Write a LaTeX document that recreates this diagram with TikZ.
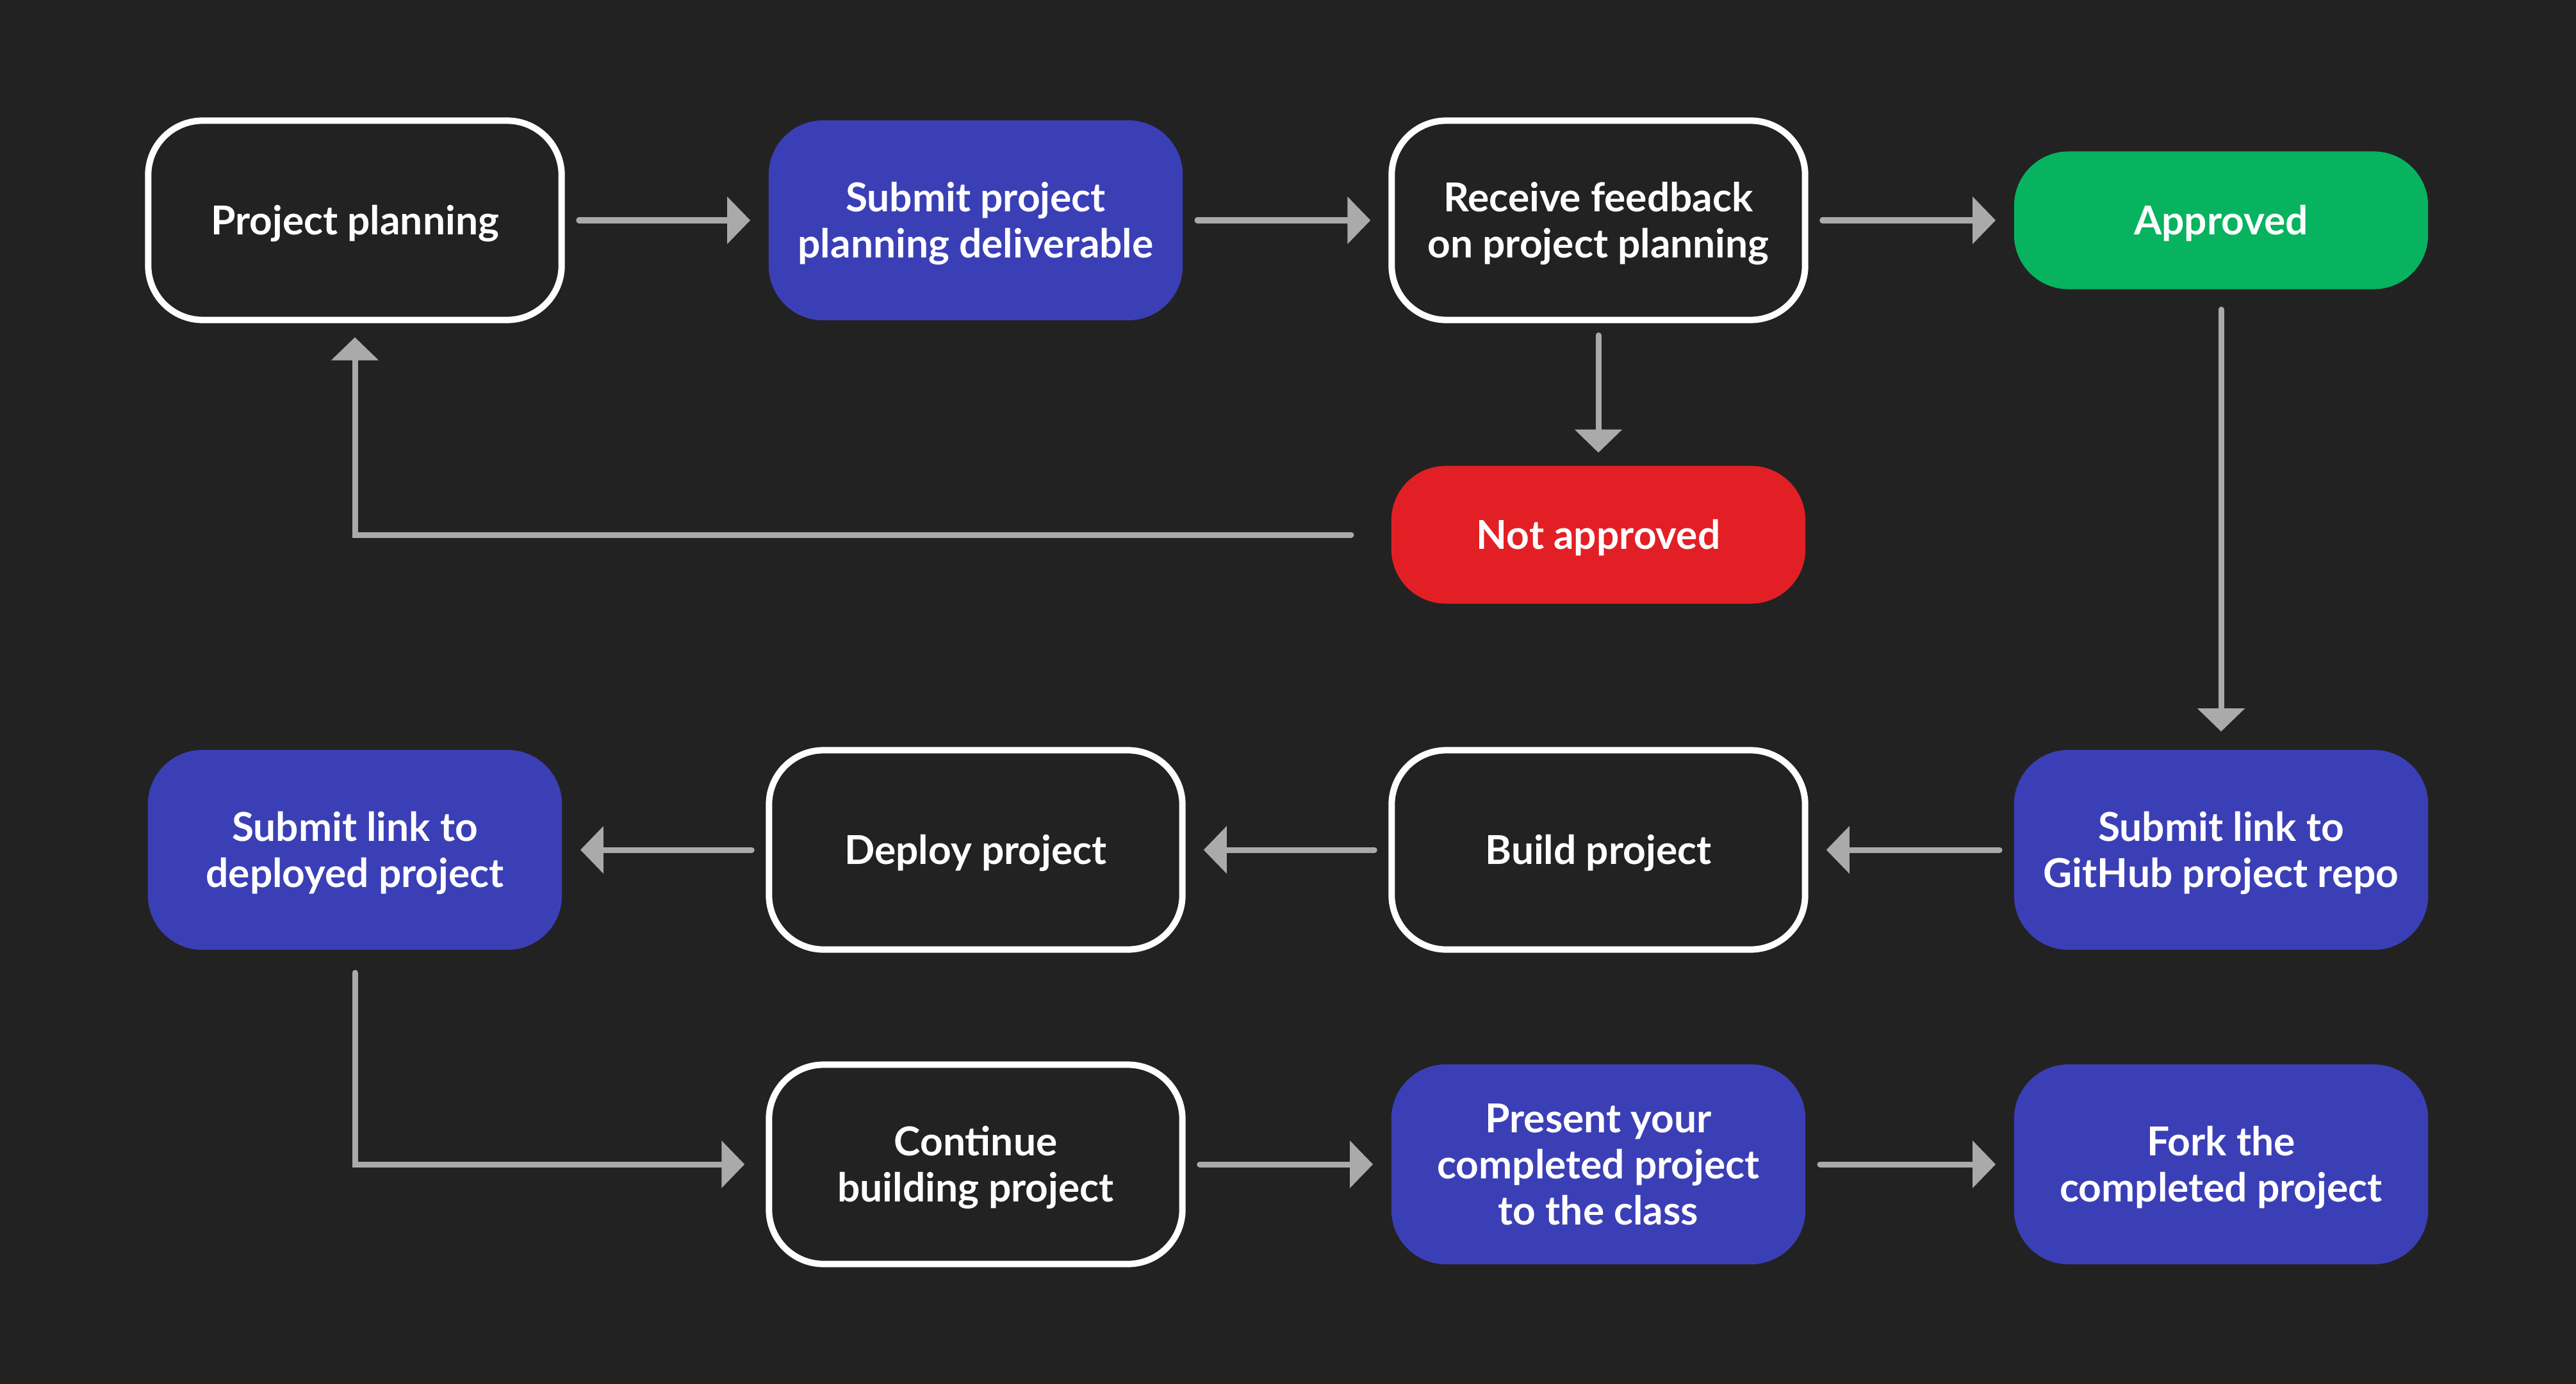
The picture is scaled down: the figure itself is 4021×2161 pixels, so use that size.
\documentclass[tikz,border=0pt]{standalone}
\usepackage{fontspec}
\setmainfont{Lato}
\usetikzlibrary{arrows.meta}
\definecolor{bgc}{HTML}{222222}
\definecolor{bluec}{HTML}{3B3FB6}
\definecolor{greenc}{HTML}{07B35F}
\definecolor{redc}{HTML}{E31F26}
\definecolor{arrc}{HTML}{AAAAAA}
\tikzset{
  base/.style={rounded corners=0.85cm, align=center, text=white, inner sep=0pt,
    font=\fontsize{17.7pt}{20.5pt}\selectfont\bfseries,
    execute at begin node={\rule{0pt}{16.5pt}},
    execute at end node={\rule[-3.6pt]{0pt}{0pt}}},
  mltwo/.style={execute at begin node={\rule{0pt}{37pt}}},
  mlthree/.style={execute at begin node={\rule{0pt}{57.5pt}}},
  outlinebox/.style={base, draw=white, line width=0.1cm, fill=bgc,
    minimum width=6.45cm, minimum height=3.11cm},
  bluebox/.style={base, fill=bluec, minimum width=6.46cm, minimum height=3.12cm},
  greenbox/.style={base, fill=greenc, minimum width=6.46cm, minimum height=2.15cm},
  redbox/.style={base, fill=redc, minimum width=6.46cm, minimum height=2.15cm},
  arr/.style={draw=arrc, line width=0.09cm, line cap=round,
    -{Triangle[length=0.36cm, width=0.72cm]},
    shorten <=0.22cm, shorten >=0.28cm},
}
\begin{document}
\begin{tikzpicture}[x=0.01cm, y=-0.01cm]
\fill[bgc] (0,0) rectangle (4021,2161);
\useasboundingbox (0,0) rectangle (4021,2161);

% row 1
\node[outlinebox] (pp) at (554,344) {Project planning};
\node[bluebox, mltwo] (spd) at (1523,344) {Submit project\\planning deliverable};
\node[outlinebox, mltwo] (rf) at (2495,344) {Receive feedback\\on project planning};
\node[greenbox] (ap) at (3467,344) {Approved};
\node[redbox] (na) at (2495,835) {Not approved};

% row 2
\node[bluebox, mltwo] (sld) at (554,1327) {Submit link to\\deployed project};
\node[outlinebox] (dp) at (1523,1327) {Deploy project};
\node[outlinebox] (bp) at (2495,1327) {Build project};
\node[bluebox, mltwo] (slg) at (3467,1327) {Submit link to\\GitHub project repo};

% row 3
\node[outlinebox, mltwo] (cb) at (1523,1818) {Continue\\building project};
\node[bluebox, mlthree] (pc) at (2495,1818) {Present your\\completed project\\to the class};
\node[bluebox, mltwo] (fc) at (3467,1818) {Fork the\\completed project};

% connectors
\draw[arr] (pp) -- (spd);
\draw[arr] (spd) -- (rf);
\draw[arr] (rf) -- (ap);
\draw[arr, shorten <=0.19cm, shorten >=0.2cm] (rf) -- (na);
\draw[arr, shorten <=0.62cm, shorten >=0.22cm] (na.west) -| (pp.south);
\draw[arr, shorten <=0.31cm] (ap) -- (slg);
\draw[arr] (slg) -- (bp);
\draw[arr] (bp) -- (dp);
\draw[arr] (dp) -- (sld);
\draw[arr, shorten <=0.35cm, shorten >=0.33cm] (sld.south) |- (cb.west);
\draw[arr] (cb) -- (pc);
\draw[arr] (pc) -- (fc);
\end{tikzpicture}
\end{document}
